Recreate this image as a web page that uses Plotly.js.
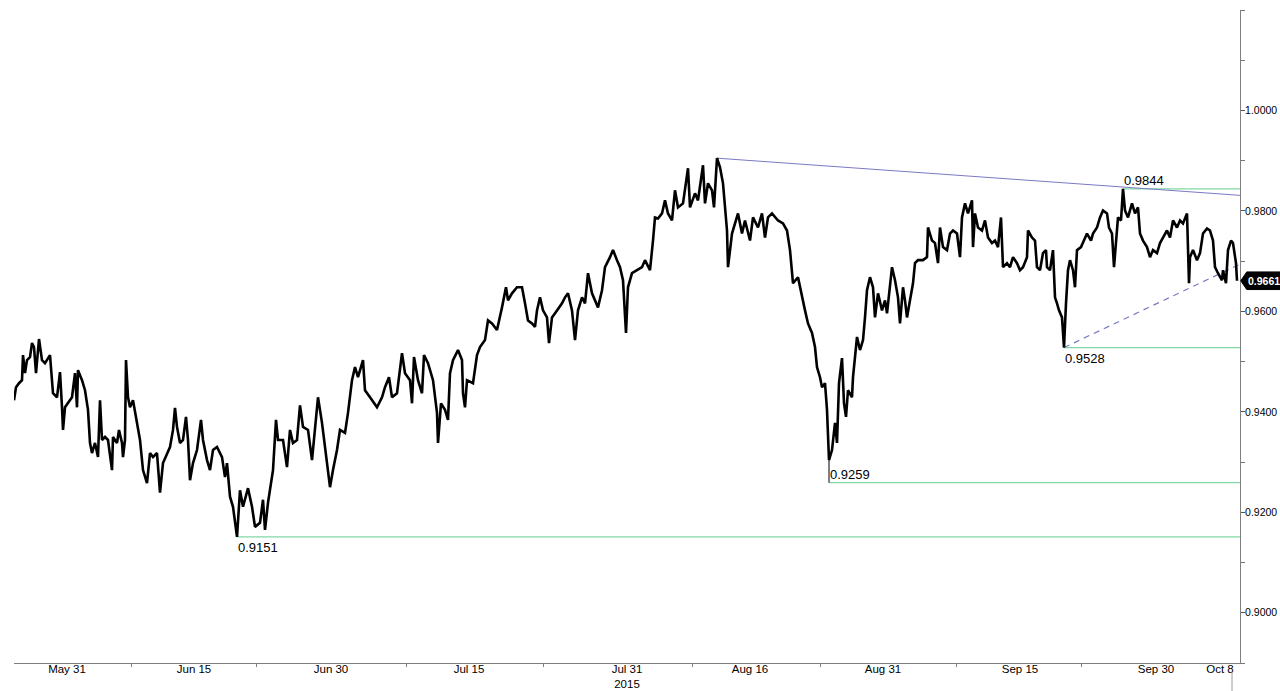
<!DOCTYPE html>
<html>
<head>
<meta charset="utf-8">
<script src="https://cdn.plot.ly/plotly-3.0.1.min.js"></script>
<style>
html,body{margin:0;padding:0;background:#fff;}
#chart{width:1280px;height:691px;}
</style>
</head>
<body>
<div id="chart"></div>
<script>
// bar index (roughly 2-hour bars, weekends removed)
const bars = [0,2,5,8,9,11,13,16,18,20,22,25,28,31,36,38,39,43,46,48,49,51,54,58,61,63,64,68,71,74,76,78,81,84,86,88,91,94,98,99,103,105,108,109,111,112,114,116,119,123,126,129,133,136,139,143,146,149,153,156,159,161,163,166,169,172,174,176,179,183,187,189,193,196,199,203,208,211,213,216,219,223,226,229,234,238,241,246,249,251,254,258,259,262,264,269,273,276,279,283,286,289,294,298,301,304,308,311,316,319,323,326,331,334,338,341,344,349,351,356,363,368,371,375,378,383,388,391,396,398,400,404,408,410,414,419,423,424,427,431,434,436,439,444,448,449,451,453,459,463,466,471,474,478,483,488,492,494,498,503,508,511,514,518,521,523,526,529,533,535,538,543,548,551,554,558,561,564,568,571,574,578,581,584,588,591,596,599,603,606,609,612,614,618,623,628,631,636,639,641,644,648,651,654,658,661,664,669,674,676,681,684,689,691,694,698,700,703,706,709,713,714,718,721,724,728,731,736,739,744,748,751,754,758,761,764,769,773,776,778,779,784,788,791,794,798,801,803,806,808,811,813,815,818,821,823,825,828,830,832,834,838,839,843,846,849,851,853,856,859,861,864,868,871,873,876,878,881,884,886,889,891,893,896,899,901,904,909,913,914,918,921,924,926,929,933,936,939,943,946,948,951,954,958,959,961,964,968,971,974,978,981,984,987,989,993,996,999,1003,1006,1009,1013,1014,1018,1021,1023,1026,1029,1032,1033,1036,1039,1041,1043,1045,1048,1049,1050,1052,1054,1056,1059,1061,1063,1067,1070,1073,1077,1079,1083,1086,1089,1093,1095,1098,1100,1102,1104,1107,1109,1111,1114,1118,1121,1124,1126,1129,1133,1136,1139,1143,1146,1149,1153,1156,1159,1163,1166,1169,1173,1175,1176,1179,1183,1186,1189,1193,1196,1199,1201,1204,1208,1209,1212,1214,1217,1219,1222,1223];
const prices = [0.9423,0.9449,0.9457,0.9463,0.9513,0.9477,0.9503,0.9509,0.9537,0.9529,0.9477,0.9545,0.9503,0.9497,0.9513,0.9457,0.9437,0.9429,0.9479,0.9409,0.9364,0.9409,0.9417,0.9429,0.9477,0.9409,0.9483,0.9463,0.9443,0.9404,0.9338,0.9318,0.9338,0.9310,0.9423,0.9344,0.9350,0.9344,0.9284,0.9350,0.9338,0.9364,0.9338,0.9310,0.9344,0.9503,0.9429,0.9409,0.9423,0.9378,0.9344,0.9284,0.9258,0.9318,0.9310,0.9318,0.9239,0.9298,0.9318,0.9330,0.9364,0.9408,0.9370,0.9338,0.9344,0.9390,0.9344,0.9264,0.9298,0.9324,0.9384,0.9344,0.9304,0.9284,0.9324,0.9330,0.9310,0.9270,0.9298,0.9231,0.9211,0.9151,0.9244,0.9211,0.9248,0.9211,0.9171,0.9179,0.9225,0.9165,0.9219,0.9278,0.9284,0.9384,0.9344,0.9344,0.9290,0.9364,0.9338,0.9344,0.9413,0.9370,0.9364,0.9304,0.9370,0.9429,0.9378,0.9330,0.9250,0.9284,0.9324,0.9364,0.9358,0.9398,0.9463,0.9489,0.9469,0.9503,0.9443,0.9429,0.9409,0.9429,0.9449,0.9469,0.9429,0.9437,0.9517,0.9477,0.9463,0.9417,0.9509,0.9463,0.9437,0.9513,0.9497,0.9463,0.9398,0.9338,0.9417,0.9404,0.9384,0.9477,0.9503,0.9523,0.9503,0.9437,0.9409,0.9463,0.9457,0.9513,0.9529,0.9543,0.9582,0.9576,0.9563,0.9608,0.9648,0.9622,0.9636,0.9648,0.9648,0.9616,0.9582,0.9576,0.9569,0.9602,0.9628,0.9602,0.9588,0.9537,0.9588,0.9602,0.9616,0.9628,0.9636,0.9602,0.9543,0.9602,0.9628,0.9616,0.9676,0.9636,0.9622,0.9608,0.9642,0.9688,0.9708,0.9722,0.9702,0.9688,0.9662,0.9557,0.9648,0.9676,0.9682,0.9688,0.9702,0.9682,0.9741,0.9787,0.9785,0.9795,0.9821,0.9795,0.9781,0.9841,0.9807,0.9815,0.9885,0.9807,0.9835,0.9821,0.9891,0.9815,0.9855,0.9841,0.9807,0.9905,0.9887,0.9855,0.9761,0.9688,0.9755,0.9775,0.9795,0.9755,0.9781,0.9741,0.9787,0.9767,0.9795,0.9747,0.9787,0.9795,0.9787,0.9781,0.9775,0.9761,0.9722,0.9682,0.9656,0.9668,0.9628,0.9602,0.9576,0.9557,0.9529,0.9489,0.9469,0.9449,0.9457,0.9404,0.9304,0.9324,0.9378,0.9338,0.9457,0.9507,0.9417,0.9390,0.9443,0.9429,0.9469,0.9549,0.9523,0.9543,0.9588,0.9642,0.9668,0.9648,0.9588,0.9636,0.9602,0.9622,0.9596,0.9656,0.9688,0.9662,0.9628,0.9576,0.9648,0.9622,0.9588,0.9622,0.9656,0.9696,0.9702,0.9702,0.9708,0.9767,0.9741,0.9736,0.9696,0.9767,0.9728,0.9722,0.9755,0.9761,0.9755,0.9708,0.9787,0.9815,0.9795,0.9821,0.9728,0.9795,0.9767,0.9761,0.9781,0.9747,0.9736,0.9741,0.9728,0.9787,0.9688,0.9696,0.9688,0.9708,0.9696,0.9682,0.9688,0.9708,0.9761,0.9747,0.9741,0.9688,0.9682,0.9716,0.9722,0.9688,0.9682,0.9722,0.9628,0.9616,0.9602,0.9588,0.9557,0.9528,0.9616,0.9682,0.9702,0.9682,0.9648,0.9722,0.9728,0.9741,0.9755,0.9741,0.9755,0.9767,0.9787,0.9801,0.9795,0.9767,0.9755,0.9688,0.9741,0.9787,0.9781,0.9844,0.9801,0.9787,0.9815,0.9795,0.9807,0.9755,0.9741,0.9728,0.9708,0.9722,0.9716,0.9736,0.9747,0.9761,0.9747,0.9781,0.9767,0.9781,0.9775,0.9795,0.9656,0.9708,0.9722,0.9702,0.9716,0.9755,0.9765,0.9761,0.9741,0.9688,0.9676,0.9662,0.9682,0.9656,0.9722,0.9741,0.9736,0.9696,0.9661];

// x-axis labels
const tickBars = [53,180,317,455,613,736,869,1006,1142,1206];
const tickLabels = ['May 31','Jun 15','Jun 30','Jul 15','Jul 31<br>2015','Aug 16','Aug 31','Sep 15','Sep 30','Oct 8'];
const minorTickBars = [117,242,392,529,678,806,942,1067];

// annotated extremes
const levelBars = [223,815,1050,1109];
const levelValues = [0.9151,0.9259,0.9528,0.9844];
const levelLabelSide = ['below','above','below','above'];

// trend lines
const resistBars = [703,1226];
const resistValues = [0.9905,0.9831];
const supportBars = [1050,1226];
const supportValues = [0.9528,0.9694];

// wick to the 0.9259 low
const wickBar = 815;
const wickValues = [0.9304,0.9259];

const lastValue = 0.9661;
const xMax = 1226;
const yMin = 0.89, yMax = 1.02;

const FONT = 'Liberation Sans, Arial, sans-serif';
const green = '#7fd8a6';
const blue = '#7a7ac4';

const traces = [
  {x: resistBars, y: resistValues, mode:'lines', line:{color:blue, width:1}, hoverinfo:'skip'},
  {x: supportBars, y: supportValues, mode:'lines', line:{color:blue, width:1.2, dash:'6px,5px'}, hoverinfo:'skip'},
  {x: [wickBar,wickBar], y: wickValues, mode:'lines', line:{color:'#000', width:1}, hoverinfo:'skip'},
  {x: bars, y: prices, mode:'lines', line:{color:'#000', width:2.6}, hoverinfo:'skip'}
];

const shapes = [];
const annotations = [];
levelBars.forEach((b,i)=>{
  shapes.push({type:'line', xref:'x', yref:'y', x0:b, x1:xMax, y0:levelValues[i], y1:levelValues[i], line:{color:green, width:1.2}, layer:'below'});
  annotations.push({x:b, y:levelValues[i], xref:'x', yref:'y', text:levelValues[i].toFixed(4), showarrow:false,
    xanchor:'left', yanchor: levelLabelSide[i]==='below' ? 'top':'bottom', xshift:-1,
    yshift: -1,
    font:{family:FONT, size:13, color:'#000'}});
});

// last price tag
const pY = (lastValue - yMin)/(yMax - yMin);
const h = 0.0135;
shapes.push({type:'path', xref:'paper', yref:'paper',
  path:`M 1.0006 ${pY} L 1.0055 ${pY+h} L 1.04 ${pY+h} L 1.04 ${pY-h} L 1.0055 ${pY-h} Z`,
  fillcolor:'#000', line:{color:'#000', width:1}, layer:'above'});
annotations.push({xref:'paper', yref:'paper', x:1.0048, y:pY, xanchor:'left', yanchor:'middle', showarrow:false,
  text:'<b>'+lastValue.toFixed(4)+'</b>', font:{family:FONT, size:10.5, color:'#fff'}});

// small marker line below axis at end
shapes.push({type:'line', xref:'x', yref:'paper', x0:1218, x1:1218, y0:-0.014, y1:-0.05, line:{color:'#9a9a9a', width:1}});

const layout = {
  width:1280, height:691,
  margin:{l:14, r:40, t:10, b:28},
  paper_bgcolor:'#fff', plot_bgcolor:'#fff',
  showlegend:false,
  font:{family:FONT, size:12, color:'#000'},
  xaxis:{
    range:[0, xMax], showgrid:false, zeroline:false,
    showline:true, linecolor:'#7f7f7f', linewidth:1,
    tickmode:'array', tickvals:tickBars, ticktext:tickLabels,
    ticks:'', ticklen:0, ticklabelstandoff:-5,
    tickfont:{family:FONT, size:11.5, color:'#000'},
    minor:{tickmode:'array', tickvals:minorTickBars, ticks:'outside', ticklen:3, tickcolor:'#7f7f7f', showgrid:false}
  },
  yaxis:{
    side:'right', range:[yMin, yMax], showgrid:false, zeroline:false,
    showline:true, linecolor:'#7f7f7f', linewidth:1,
    tickmode:'array', tickvals:[0.90,0.92,0.94,0.96,0.98,1.00], tickformat:'.4f',
    ticks:'outside', ticklen:4, tickcolor:'#555', ticklabelstandoff:-2,
    tickfont:{family:FONT, size:10.5, color:'#000'},
    minor:{tickmode:'array', tickvals:[0.89,0.91,0.93,0.95,0.97,0.99,1.01,1.02], ticks:'outside', ticklen:4, tickcolor:'#777', showgrid:false}
  },
  shapes, annotations
};

Plotly.newPlot('chart', traces, layout, {displayModeBar:false, staticPlot:true});
</script>
</body>
</html>
